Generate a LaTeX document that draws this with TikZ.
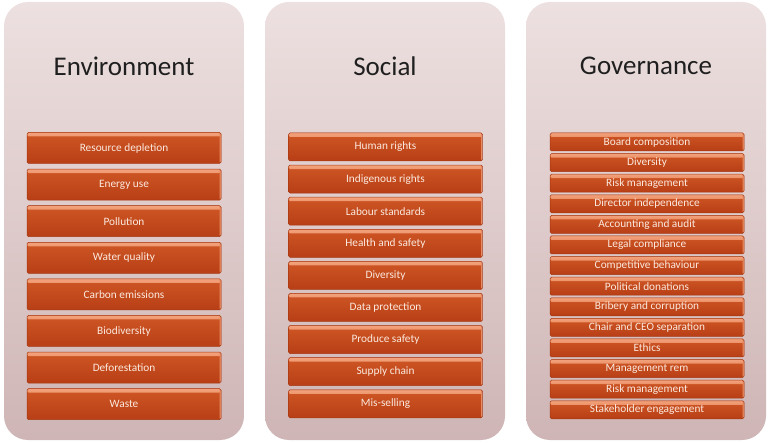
\documentclass[tikz,border=0pt]{standalone}
\usepackage{fontspec}
\setmainfont{Carlito}
\usepackage{tikz}
\usetikzlibrary{positioning}
\definecolor{PanelTop}{HTML}{EDE0E0}
\definecolor{PanelBot}{HTML}{CFB5B5}
\definecolor{BoxTop}{HTML}{F3A27C}
\definecolor{BoxLite}{HTML}{CF5624}
\definecolor{BoxDark}{HTML}{B83F16}
\definecolor{BoxEdge}{HTML}{A53812}
\definecolor{BoxText}{HTML}{FBEADF}

\begin{document}
\begin{tikzpicture}[x=1pt, y=-1pt,
  panel/.style={rectangle, rounded corners=24pt, minimum width=240pt, minimum height=438pt,
                top color=PanelTop, bottom color=PanelBot, inner sep=0pt},
  ttl/.style={font=\fontsize{27}{30}\selectfont, text=black!88},
  item/.style={rectangle, rounded corners=1.5pt, minimum width=194pt, inner sep=0pt,
               top color=BoxLite, bottom color=BoxDark, draw=BoxEdge,
               line width=0.5pt, text=BoxText, font=\fontsize{11.3}{12}\selectfont,
               path picture={\shade[top color=BoxTop, bottom color=BoxLite]
                 (path picture bounding box.north west) rectangle
                 ([yshift=-4pt]path picture bounding box.north east);
                 \fill[BoxTop!70!BoxLite] ([xshift=-1.5pt]path picture bounding box.north east)
                   rectangle (path picture bounding box.south east);}},
  envitem/.style={item, minimum height=31pt},
  socitem/.style={item, minimum height=28pt},
  govitem/.style={item, minimum height=18pt}
]
\useasboundingbox (0,0) rectangle (768,443);

% panels
\node[panel] (env) at (124,221) {};
\node[panel] (soc) at (385,221) {};
\node[panel] (gov) at (646,221) {};

\node[ttl] (envtitle) at (124,66) {Environment};
\node[ttl] (soctitle) at (385,66) {Social};
\node[ttl] (govtitle) at (646,66) {Governance};

% environment
\foreach \t [count=\i] in {Resource depletion, Energy use, Pollution, Water quality,
    Carbon emissions, Biodiversity, Deforestation, Waste}
  \node[envitem] (env-\i) at (124,{148+(\i-1)*36.6}) {\t};

% social
\foreach \t [count=\i] in {Human rights, Indigenous rights, Labour standards,
    Health and safety, Diversity, Data protection, Produce safety, Supply chain, Mis-selling}
  \node[socitem] (soc-\i) at (385.5,{147+(\i-1)*32.1}) {\t};

% governance
\foreach \t [count=\i] in {Board composition, Diversity, Risk management,
    Director independence, Accounting and audit, Legal compliance,
    Competitive behaviour, Political donations, Bribery and corruption,
    Chair and CEO separation, Ethics, Management rem, Risk management,
    Stakeholder engagement}
  \node[govitem] (gov-\i) at (647,{142+(\i-1)*20.6}) {\t};

\end{tikzpicture}
\end{document}
